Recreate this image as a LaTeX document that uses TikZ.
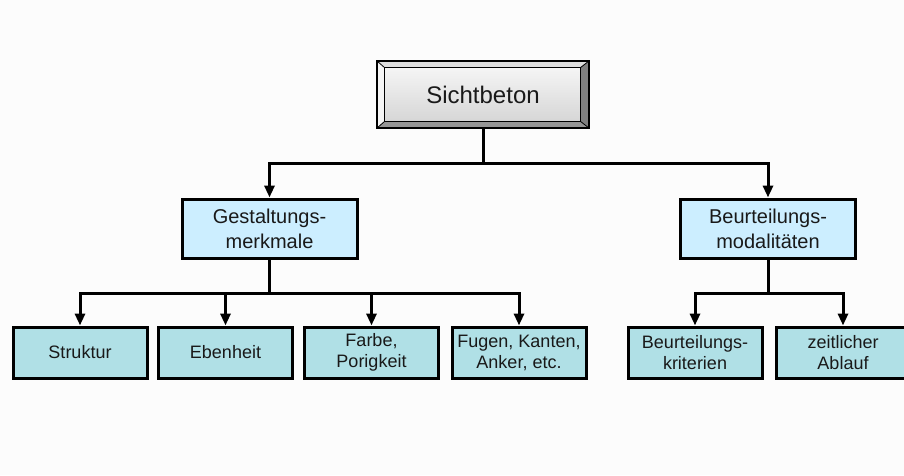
\documentclass[tikz,border=0pt]{standalone}
\usepackage{fontspec}
\setmainfont{Liberation Sans}
\usetikzlibrary{arrows.meta,calc}
\definecolor{pagebg}{RGB}{252,252,252}
\definecolor{midfill}{RGB}{204,238,255}
\definecolor{leaffill}{RGB}{176,224,230}
\definecolor{bevlight}{RGB}{245,245,245}
\definecolor{bevtop}{RGB}{222,222,222}
\definecolor{bevdark}{RGB}{128,128,128}
\definecolor{bevbottom}{RGB}{150,150,150}
\definecolor{txt}{RGB}{25,25,25}
\tikzset{
  x=1pt, y=-1pt,
  midbox/.style={draw=black, line width=3pt, fill=midfill, minimum width=175pt,
    minimum height=59pt, align=center, font=\fontsize{20}{25}\selectfont, text=txt,
    inner sep=0pt},
  leafbox/.style={draw=black, line width=3pt, fill=leaffill, minimum width=134pt,
    minimum height=51pt, align=center, font=\fontsize{18}{21}\selectfont, text=txt,
    inner sep=0pt},
  rootbox/.style={minimum width=212pt, minimum height=67pt, inner sep=0pt,
    font=\fontsize{24}{28}\selectfont, text=txt},
  conn/.style={line width=3pt, -{Triangle[width=10pt,length=12pt]}},
  bevedge/.style={draw=black, line width=0.8pt, line join=miter},
}
\begin{document}
\begin{tikzpicture}
\fill[pagebg] (0,0) rectangle (904,475);
\useasboundingbox (0,0) rectangle (904,475);
\clip (0,0) rectangle (904,475);

% root: bevelled button
\node[rootbox] (root) at (483,94.5) {};
\coordinate (fnw) at ([shift={(8,7)}]root.north west);
\coordinate (fne) at ([shift={(-9,7)}]root.north east);
\coordinate (fsw) at ([shift={(8,-7)}]root.south west);
\coordinate (fse) at ([shift={(-9,-7)}]root.south east);
\fill[bevtop] (root.north west) -- (root.north east) -- (fne) -- (fnw) -- cycle;
\fill[bevlight] (root.north west) -- (fnw) -- (fsw) -- (root.south west) -- cycle;
\fill[bevdark] (root.north east) -- (root.south east) -- (fse) -- (fne) -- cycle;
\fill[bevbottom] (root.south west) -- (fsw) -- (fse) -- (root.south east) -- cycle;
\shade[top color=gray!8, bottom color=gray!32] (fnw) rectangle (fse);
\draw[bevedge] (fnw) rectangle (fse);
\draw[bevedge] (root.north west) -- (fnw) (root.north east) -- (fne)
  (root.south west) -- (fsw) (root.south east) -- (fse);
\draw[line width=1.5pt] (root.north west) rectangle (root.south east);
\node[text=txt, font=\fontsize{24}{28}\selectfont] at (root.center) {Sichtbeton};

% second level
\node[midbox] (gest) at (269.5,228.5) {Gestaltungs-\\merkmale};
\node[midbox] (beur) at (768,228.5) {Beurteilungs-\\modalitäten};

% leaves
\node[leafbox] (struk) at (80,352.5) {Struktur};
\node[leafbox] (eben) at (225.5,352.5) {Ebenheit};
\node[leafbox] (farbe) at (371.5,352.5) {Farbe,\\Porigkeit};
\node[leafbox] (fugen) at (519,352.5) {Fugen, Kanten,\\Anker, etc.};
\node[leafbox] (krit) at (695,352.5) {Beurteilungs-\\kriterien};
\node[leafbox] (ablauf) at (843,352.5) {zeitlicher\\Ablauf};

% connectors
\draw[conn] (root.south) -- ++(0,35) -| (gest.north);
\draw[conn] (root.south) -- ++(0,35) -| (beur.north);
\foreach \t in {struk,eben,farbe,fugen}
  \draw[conn] (gest.south) -- ++(0,34) -| (\t.north);
\foreach \t in {krit,ablauf}
  \draw[conn] (beur.south) -- ++(0,34) -| (\t.north);
\end{tikzpicture}
\end{document}
